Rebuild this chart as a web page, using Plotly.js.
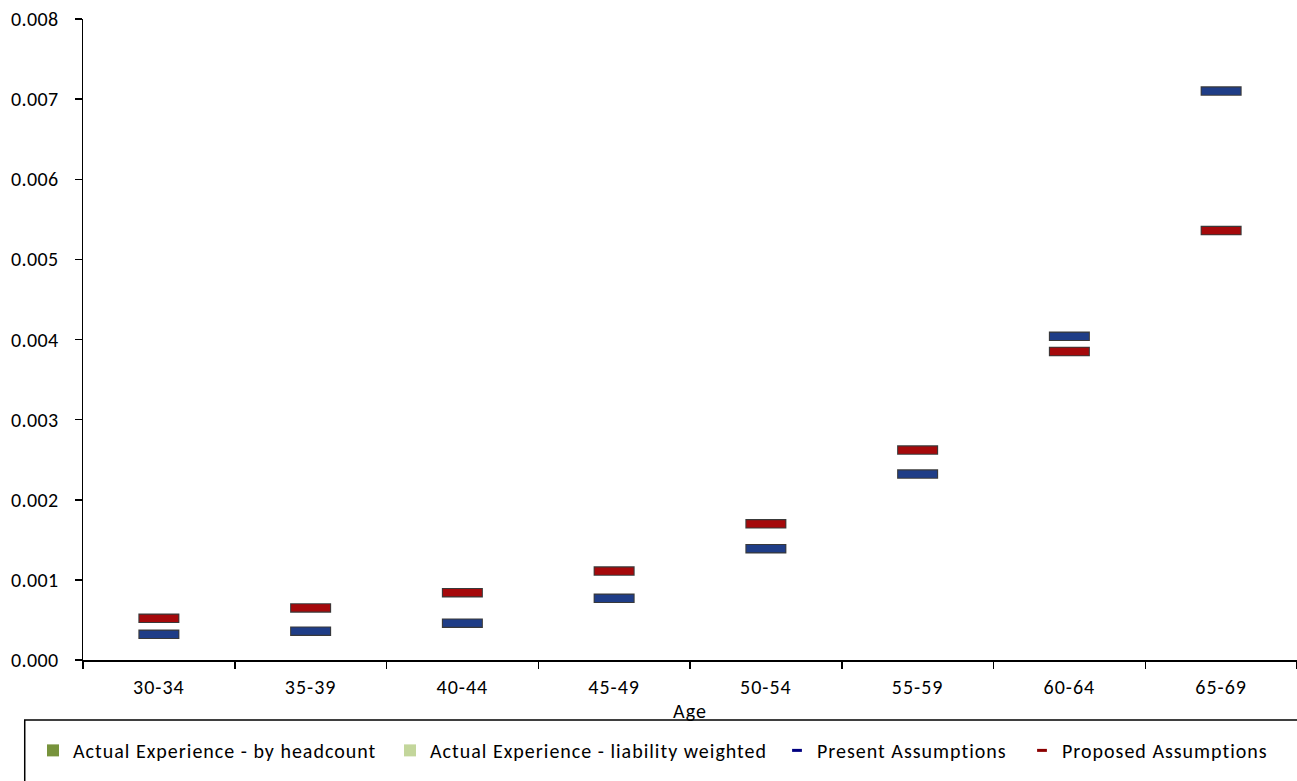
<!DOCTYPE html>
<html>
<head>
<meta charset="utf-8">
<script src="https://cdn.plot.ly/plotly-3.0.1.min.js"></script>
<style>html,body{margin:0;padding:0;background:#fff;}#chart{width:1297px;height:781px;}
#chart .ytick text{letter-spacing:0.4px;}
#chart .xtick text, #chart .xtitle{letter-spacing:1px;}
#chart .infolayer text, #chart [class^="legend"] text, text.legendtext, #js-plotly-tester text{letter-spacing:1px;}</style>
</head>
<body>
<div id="chart"></div>
<script>
const categories = ["30-34","35-39","40-44","45-49","50-54","55-59","60-64","65-69"];
const actualHeadcount = [null,null,null,null,null,null,null,null];
const actualLiability = [null,null,null,null,null,null,null,null];
const presentAssumptions = [0.00032,0.00036,0.00046,0.00077,0.00139,0.00232,0.00404,0.00710];
const proposedAssumptions = [0.00052,0.00065,0.00084,0.00111,0.00170,0.00262,0.00385,0.00536];
const yTicks = [0,0.001,0.002,0.003,0.004,0.005,0.006,0.007,0.008];

const FONT = "Carlito, Lato, 'Open Sans', sans-serif";
const FS = 20;

function dashTraces(y, fill, legendColor, name, legendId) {
  return [
    {type:'scatter', mode:'markers', x:categories, y:y, name:name, showlegend:true, legend:legendId,
     hoverinfo:'skip', marker:{symbol:'line-ew-open', size:7, color:legendColor, line:{width:3, color:legendColor}}},
    {type:'scatter', mode:'markers', x:categories, y:y, showlegend:false, hoverinfo:'skip',
     marker:{symbol:'line-ew', size:29.3, line:{width:9.5, color:'rgba(35,35,35,0.9)'}}},
    {type:'scatter', mode:'markers', x:categories, y:y, showlegend:false, name:name,
     marker:{symbol:'line-ew', size:27.8, line:{width:7.3, color:fill}}}
  ];
}

const data = [
  {type:'bar', x:categories, y:actualHeadcount, name:'Actual Experience - by headcount', legend:'legend', marker:{color:'#77933C'}},
  {type:'bar', x:categories, y:actualLiability, name:'Actual Experience - liability weighted', legend:'legend2', marker:{color:'#C3D69B'}},
  ...dashTraces(presentAssumptions, '#1F3D87', '#000080', 'Present Assumptions', 'legend3'),
  ...dashTraces(proposedAssumptions, '#A5090B', '#8B0000', 'Proposed Assumptions', 'legend4')
];

function leg(xp) {
  return {orientation:'h', x:xp, xanchor:'left', y:-0.141, yanchor:'middle',
    bgcolor:'rgba(0,0,0,0)', borderwidth:0, itemwidth:30,
    font:{family:FONT, size:FS, color:'#000'}, itemclick:false, itemdoubleclick:false};
}
const px2paper = p => (p - 83) / 1214;

const layout = {
  width:1297, height:781,
  margin:{l:83, r:0, t:19, b:121},
  paper_bgcolor:'#fff', plot_bgcolor:'#fff',
  font:{family:FONT, size:FS, color:'#000'},
  showlegend:true,
  xaxis:{
    type:'category', range:[-0.5, 7.5], showgrid:false, zeroline:false,
    showline:true, linecolor:'#000', linewidth:1.5,
    ticks:'outside', tickson:'boundaries', ticklen:7, tickcolor:'#000', tickwidth:1.5,
    ticklabelstandoff:8,
    tickfont:{family:FONT, size:FS},
    title:{text:'Age', font:{family:FONT, size:FS}, standoff:6},
    automargin:false
  },
  yaxis:{
    range:[0,0.008], showgrid:false, zeroline:false,
    showline:true, linecolor:'#000', linewidth:1.5,
    ticks:'outside', ticklen:7, tickcolor:'#000', tickwidth:1.5,
    tickvals:yTicks, tickformat:'.3f', ticklabelstandoff:12,
    tickfont:{family:FONT, size:FS},
    automargin:false
  },
  legend: leg(px2paper(33)),
  legend2: leg(px2paper(390)),
  legend3: leg(px2paper(777)),
  legend4: leg(px2paper(1022)),
  shapes:[{
    type:'rect', xref:'paper', yref:'paper',
    x0:-0.048, x1:1.02, y0:-0.21, y1:-0.0936,
    line:{color:'#000', width:1.5}, fillcolor:'rgba(0,0,0,0)'
  }]
};

Plotly.newPlot('chart', data, layout, {staticPlot:true, displayModeBar:false});
</script>
</body>
</html>
